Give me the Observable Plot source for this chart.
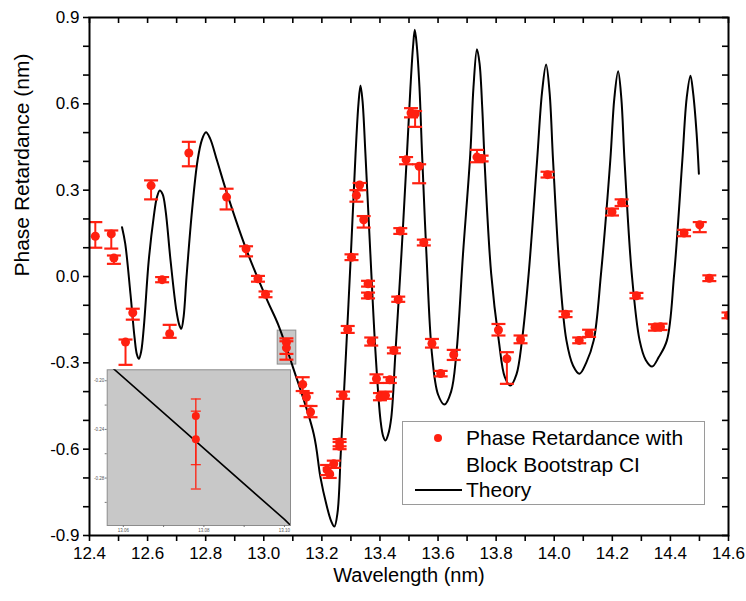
<!DOCTYPE html>
<html><head><meta charset="utf-8">
<script src="https://cdn.jsdelivr.net/npm/d3@7"></script>
<script src="https://cdn.jsdelivr.net/npm/@observablehq/plot@0.6"></script>
<style>
html,body{margin:0;padding:0;background:#fff;}
#wrap{position:relative;width:746px;height:601px;overflow:hidden;}
#insetBox{position:absolute;left:91px;top:365px;}
</style></head><body><div id="wrap"><div id="mainBox"></div><div id="insetBox"></div></div>
<script>
// Measured data (Phase Retardance with Block Bootstrap CI)
const wavelength = [12.42,12.475,12.484,12.524,12.549,12.612,12.65,12.676,12.742,12.872,12.939,12.98,13.006,13.078,13.078,13.134,13.147,13.161,13.218,13.227,13.241,13.261,13.261,13.273,13.289,13.302,13.319,13.33,13.344,13.359,13.359,13.37,13.388,13.40,13.419,13.434,13.448,13.463,13.47,13.49,13.507,13.521,13.535,13.551,13.579,13.609,13.654,13.734,13.75,13.808,13.837,13.884,13.977,14.039,14.086,14.12,14.199,14.232,14.283,14.347,14.366,14.447,14.501,14.534,14.60];
const retardance = [0.14,0.148,0.064,-0.228,-0.126,0.316,-0.011,-0.199,0.429,0.276,0.096,-0.008,-0.062,-0.229,-0.248,-0.375,-0.419,-0.471,-0.672,-0.686,-0.651,-0.575,-0.59,-0.413,-0.184,0.067,0.282,0.318,0.197,-0.025,-0.066,-0.226,-0.355,-0.419,-0.413,-0.359,-0.257,-0.08,0.158,0.406,0.568,0.565,0.383,0.118,-0.233,-0.337,-0.272,0.415,0.41,-0.186,-0.286,-0.219,0.354,-0.131,-0.222,-0.198,0.224,0.256,-0.067,-0.176,-0.175,0.151,0.18,-0.006,-0.135];
const ciLow = [0.10,0.097,0.044,-0.307,-0.150,0.268,-0.02,-0.213,0.383,0.233,0.070,-0.018,-0.072,-0.269,-0.289,-0.398,-0.45,-0.489,-0.69,-0.70,-0.665,-0.59,-0.60,-0.425,-0.196,0.057,0.26,0.30,0.17,-0.035,-0.076,-0.24,-0.37,-0.43,-0.425,-0.37,-0.267,-0.088,0.148,0.39,0.553,0.52,0.324,0.108,-0.247,-0.347,-0.29,0.397,0.40,-0.205,-0.373,-0.232,0.344,-0.141,-0.232,-0.21,0.212,0.245,-0.076,-0.188,-0.186,0.14,0.154,-0.016,-0.145];
const ciHigh = [0.189,0.16,0.073,-0.219,-0.112,0.334,-0.002,-0.168,0.468,0.305,0.105,0.002,-0.052,-0.215,-0.225,-0.35,-0.405,-0.45,-0.655,-0.665,-0.64,-0.565,-0.575,-0.40,-0.172,0.077,0.30,0.325,0.21,-0.015,-0.056,-0.212,-0.34,-0.405,-0.40,-0.35,-0.247,-0.07,0.168,0.415,0.585,0.575,0.39,0.128,-0.217,-0.328,-0.255,0.44,0.42,-0.165,-0.263,-0.205,0.364,-0.121,-0.212,-0.185,0.236,0.268,-0.057,-0.166,-0.164,0.162,0.189,0.004,-0.125];

// Theory curve
const theoryWavelength = [12.512,12.523,12.541,12.555,12.563,12.570,12.578,12.587,12.604,12.621,12.632,12.642,12.652,12.662,12.679,12.699,12.709,12.716,12.724,12.734,12.753,12.772,12.787,12.801,12.815,12.839,12.874,12.939,13.012,13.05,13.10,13.172,13.195,13.215,13.232,13.243,13.254,13.265,13.283,13.30,13.316,13.326,13.333,13.34,13.35,13.367,13.385,13.402,13.411,13.419,13.428,13.439,13.453,13.474,13.493,13.505,13.514,13.52,13.527,13.536,13.545,13.56,13.579,13.60,13.622,13.645,13.663,13.686,13.711,13.722,13.734,13.743,13.752,13.76,13.783,13.809,13.83,13.849,13.87,13.889,13.912,13.941,13.958,13.972,13.984,13.996,14.019,14.042,14.065,14.087,14.11,14.136,14.161,14.193,14.207,14.22,14.231,14.242,14.267,14.294,14.315,14.337,14.36,14.388,14.413,14.441,14.456,14.469,14.478,14.49,14.498];
const theoryRetardance = [0.171,0.114,-0.06,-0.211,-0.27,-0.286,-0.26,-0.176,0.056,0.206,0.275,0.299,0.285,0.229,0.056,-0.118,-0.168,-0.182,-0.14,-0.002,0.229,0.403,0.475,0.501,0.48,0.403,0.287,0.096,-0.083,-0.168,-0.314,-0.547,-0.697,-0.79,-0.85,-0.869,-0.82,-0.616,-0.269,0.079,0.426,0.60,0.664,0.61,0.426,0.079,-0.269,-0.50,-0.555,-0.57,-0.55,-0.49,-0.269,0.079,0.426,0.658,0.80,0.857,0.80,0.658,0.426,0.079,-0.269,-0.41,-0.445,-0.40,-0.269,0.079,0.426,0.658,0.79,0.74,0.59,0.403,0.009,-0.222,-0.35,-0.379,-0.34,-0.222,0.009,0.403,0.64,0.737,0.64,0.403,0.009,-0.222,-0.31,-0.338,-0.30,-0.222,0.009,0.403,0.62,0.713,0.62,0.403,0.009,-0.222,-0.29,-0.313,-0.28,-0.222,0.009,0.403,0.62,0.698,0.64,0.50,0.357];

// Axes
const xTickValues = [12.4,12.5,12.6,12.7,12.8,12.9,13.0,13.1,13.2,13.3,13.4,13.5,13.6,13.7,13.8,13.9,14.0,14.1,14.2,14.3,14.4,14.5,14.6];
const xTickLabels = ["12.4","","12.6","","12.8","","13.0","","13.2","","13.4","","13.6","","13.8","","14.0","","14.2","","14.4","","14.6"];
const yTickValues = [-0.9,-0.8,-0.7,-0.6,-0.5,-0.4,-0.3,-0.2,-0.1,0.0,0.1,0.2,0.3,0.4,0.5,0.6,0.7,0.8,0.9];
const yTickLabels = ["-0.9","","","-0.6","","","-0.3","","","0.0","","","0.3","","","0.6","","","0.9"];
const xTitle = "Wavelength (nm)";
const yTitle = "Phase Retardance (nm)";
const legendPoints = ["Phase Retardance with", "Block Bootstrap CI"];
const legendLine = "Theory";

// Zoom window (highlight box in main chart) and inset axes
const zoomBoxX = [13.048, 13.112];
const zoomBoxY = [-0.306, -0.188];
const insetXDomain = [13.056, 13.1015];
const insetYDomain = [-0.319, -0.191];
const insetXTicks = [13.06, 13.07, 13.08, 13.09, 13.10];
const insetXLabels = ["13.06", "", "13.08", "", "13.10"];
const insetYTicks = [-0.30, -0.28, -0.26, -0.24, -0.22, -0.20];
const insetYLabels = ["", "-0.28", "", "-0.24", "", "-0.20"];

const red = "#ff2010";
const font = "'Liberation Sans', Arial, sans-serif";
const pts = wavelength.map((x, i) => ({x, y: retardance[i], lo: ciLow[i], hi: ciHigh[i]}));
const theory = theoryWavelength.map((x, i) => ({x, y: theoryRetardance[i]}));
const cap = {draw(ctx, size) { const w = Math.sqrt(size / Math.PI); ctx.moveTo(-w, 0); ctx.lineTo(w, 0); }};
const fmt = (vals, labs) => { const m = new Map(vals.map((v, i) => [v, labs[i]])); return d => m.get(d) ?? ""; };

const main = Plot.plot({
  width: 746, height: 601,
  marginLeft: 89, marginRight: 18, marginTop: 17, marginBottom: 66,
  style: {fontFamily: font, fontSize: "17px", background: "#fff", color: "#000"},
  x: {domain: [12.4, 14.6]},
  y: {domain: [-0.9, 0.9]},
  marks: [
    Plot.rect([0], {x1: () => zoomBoxX[0], x2: () => zoomBoxX[1], y1: () => zoomBoxY[0], y2: () => zoomBoxY[1], fill: "#c8c8c8", stroke: "#8c8c8c"}),
    Plot.line(theory, {x: "x", y: "y", stroke: "#000", strokeWidth: 2, curve: "catmull-rom"}),
    Plot.ruleX(pts, {x: "x", y1: "lo", y2: "hi", stroke: red, strokeWidth: 2, clip: true}),
    Plot.dot(pts, {x: "x", y: "lo", symbol: cap, r: 7, fill: "none", stroke: red, strokeWidth: 2.2, clip: true}),
    Plot.dot(pts, {x: "x", y: "hi", symbol: cap, r: 7, fill: "none", stroke: red, strokeWidth: 2.2, clip: true}),
    Plot.dot(pts, {x: "x", y: "y", r: 4.5, fill: red, stroke: "none", clip: true}),
    Plot.axisX({anchor: "bottom", ticks: xTickValues, tickSize: 6, tickPadding: 5, tickFormat: fmt(xTickValues, xTickLabels), fontSize: 17, label: null, strokeWidth: 1.6}),
    Plot.tickX(xTickValues, {x: d => d, insetBottom: 512, stroke: "#000", strokeWidth: 1.6}),
    Plot.axisY({anchor: "left", ticks: yTickValues, tickSize: 6, tickPadding: 4, tickFormat: fmt(yTickValues, yTickLabels), fontSize: 17, label: null, strokeWidth: 1.6}),
    Plot.tickY(yTickValues, {y: d => d, insetLeft: 633, stroke: "#000", strokeWidth: 1.6}),
    Plot.frame({stroke: "#000", strokeWidth: 2}),
    Plot.text([xTitle], {frameAnchor: "bottom", dy: 46, text: d => d, fontSize: 20, fill: "#000"}),
    Plot.text([yTitle], {frameAnchor: "left", dx: -67, rotate: -90, text: d => d, fontSize: 21, fill: "#000"})
  ]
});
document.getElementById("mainBox").appendChild(main);

// Legend
const svg = d3.select(main);
const lg = svg.append("g").attr("font-family", font).attr("font-size", 21).attr("fill", "#000").attr("text-anchor", "start");
lg.append("rect").attr("x", 402.5).attr("y", 421.5).attr("width", 302).attr("height", 83).attr("fill", "#fff").attr("stroke", "#9a9a9a");
lg.append("circle").attr("cx", 438).attr("cy", 438).attr("r", 4).attr("fill", red);
lg.append("text").attr("x", 466).attr("y", 445).text(legendPoints[0]);
lg.append("text").attr("x", 466).attr("y", 472).text(legendPoints[1]);
lg.append("line").attr("x1", 415).attr("x2", 462).attr("y1", 490).attr("y2", 490).attr("stroke", "#000").attr("stroke-width", 2);
lg.append("text").attr("x", 466).attr("y", 497).text(legendLine);

// Inset
const insetPts = pts.filter(d => d.x >= insetXDomain[0] && d.x <= insetXDomain[1]);
const inset = Plot.plot({
  width: 200, height: 170,
  marginLeft: 15.7, marginRight: 1, marginTop: 4.3, marginBottom: 10,
  x: {domain: insetXDomain},
  y: {domain: insetYDomain},
  style: {fontFamily: font, fontSize: "5px", background: "transparent", color: "#555"},
  marks: [
    Plot.frame({fill: "#c8c8c8", stroke: "#8c8c8c"}),
    Plot.line(theory, {x: "x", y: "y", stroke: "#000", strokeWidth: 1.6, clip: true}),
    Plot.ruleX(insetPts, {x: "x", y1: "lo", y2: "hi", stroke: red, strokeWidth: 1.3}),
    Plot.dot(insetPts, {x: "x", y: "lo", symbol: cap, r: 5, fill: "none", stroke: red, strokeWidth: 1.2}),
    Plot.dot(insetPts, {x: "x", y: "hi", symbol: cap, r: 5, fill: "none", stroke: red, strokeWidth: 1.2}),
    Plot.dot(insetPts, {x: "x", y: "y", r: 4, fill: red, stroke: "none"}),
    Plot.axisX({anchor: "bottom", ticks: insetXTicks, tickSize: 2, tickPadding: 1, tickFormat: fmt(insetXTicks, insetXLabels), fontSize: 4.5, label: null, stroke: "#777"}),
    Plot.axisY({anchor: "left", ticks: insetYTicks, tickSize: 2, tickPadding: 1, tickFormat: fmt(insetYTicks, insetYLabels), fontSize: 4.5, label: null, stroke: "#777"})
  ]
});
document.getElementById("insetBox").appendChild(inset);
</script>
</body></html>
